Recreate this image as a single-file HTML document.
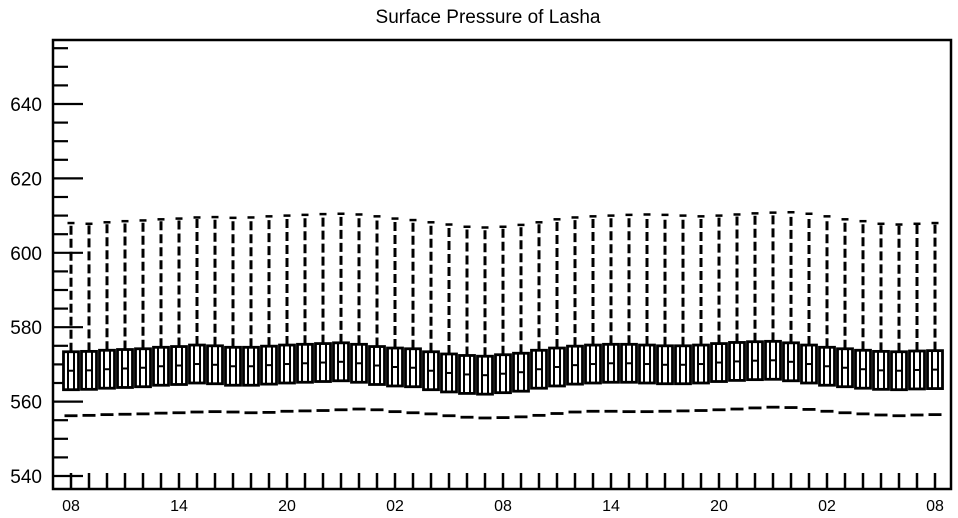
<!DOCTYPE html>
<html><head><meta charset="utf-8"><style>
body{margin:0;background:#fff;}
svg{display:block;font-family:"Liberation Sans",Arial,sans-serif;}
</style></head><body>
<svg id="chart" width="958" height="518" viewBox="0 0 958 518" xmlns="http://www.w3.org/2000/svg">
<text x="488" y="23" font-size="19" text-anchor="middle">Surface Pressure of Lasha</text>
<rect x="53" y="40" width="898" height="449" fill="none" stroke="#000" stroke-width="2.5"/>
<g id="marks"></g>
</svg>
<script>
const xLabels=["08","14","20","02","08","14","20","02","08"];
const yTicks=[540,560,580,600,620,640];
const hi=[608.0,607.8,608.2,608.5,608.7,609.0,609.2,609.5,609.6,609.4,609.5,609.8,610.0,610.2,610.4,610.5,610.3,609.8,609.2,608.8,608.2,607.6,607.0,606.8,607.0,607.5,608.2,609.0,609.5,609.8,610.0,610.2,610.3,610.2,610.0,609.8,610.0,610.3,610.6,610.8,610.9,610.5,609.8,609.0,608.5,607.8,607.6,607.8,608.0];
const q3=[573.4,573.5,573.8,574.0,574.2,574.6,574.8,575.2,575.0,574.6,574.6,574.9,575.2,575.4,575.6,575.8,575.4,574.8,574.4,574.2,573.4,572.8,572.4,572.2,572.6,573.0,573.8,574.4,574.9,575.2,575.4,575.4,575.2,575.0,575.0,575.2,575.6,575.9,576.1,576.2,575.8,575.2,574.6,574.2,573.8,573.5,573.4,573.6,573.7];
const med=[568.3,568.4,568.7,568.9,569.1,569.5,569.7,570.1,569.9,569.5,569.5,569.8,570.1,570.3,570.5,570.7,570.3,569.7,569.3,569.1,568.3,567.7,567.3,567.1,567.5,567.9,568.7,569.3,569.8,570.1,570.3,570.3,570.1,569.9,569.9,570.1,570.5,570.8,571.0,571.1,570.7,570.1,569.5,569.1,568.7,568.4,568.3,568.5,568.6];
const q1=[563.2,563.3,563.6,563.8,564.0,564.4,564.6,565.0,564.8,564.4,564.4,564.7,565.0,565.2,565.4,565.6,565.2,564.6,564.2,564.0,563.2,562.6,562.2,562.0,562.4,562.8,563.6,564.2,564.7,565.0,565.2,565.2,565.0,564.8,564.8,565.0,565.4,565.7,565.9,566.0,565.6,565.0,564.4,564.0,563.6,563.3,563.2,563.4,563.5];
const lo=[556.2,556.3,556.5,556.6,556.7,556.9,557.0,557.2,557.3,557.2,557.0,557.1,557.4,557.5,557.6,557.8,558.0,557.8,557.3,557.0,556.7,556.2,555.8,555.6,555.7,555.9,556.3,556.8,557.2,557.4,557.4,557.3,557.3,557.4,557.5,557.6,557.8,558.0,558.3,558.5,558.4,557.9,557.4,557.0,556.7,556.4,556.2,556.4,556.5];

const NS="http://www.w3.org/2000/svg";
const g=document.getElementById('marks');
const yS=v=>476-(v-540)*3.72;
const xS=i=>71+i*18;
function el(t,a){const e=document.createElementNS(NS,t);for(const k in a)e.setAttribute(k,a[k]);g.appendChild(e);return e;}
for(let v=540;v<=655;v+=5){
  const major=(v%20===0);
  const t=el('line',{x1:53,x2:major?83:68,y1:yS(v),y2:yS(v),stroke:'#000','stroke-width':2.2});
  
  
}
yTicks.forEach(v=>{
  const t=el('text',{x:42,y:yS(v)+7,'font-size':19,'text-anchor':'end'});
  t.textContent=v;
  
  
});
for(let i=0;i<hi.length;i++){
  const t=el('line',{x1:xS(i),x2:xS(i),y1:489,y2:473,stroke:'#000','stroke-width':2.5});
  
  
}
xLabels.forEach((s,j)=>{
  const t=el('text',{x:xS(j*6),y:511,'font-size':16,'text-anchor':'middle'});
  t.textContent=s;
  
  
});
for(let i=0;i<hi.length;i++){
  const x=xS(i);
  const w=el('line',{x1:x,x2:x,y1:yS(q3[i]),y2:yS(hi[i]),stroke:'#000','stroke-width':3,'stroke-dasharray':'9 4'});
  
  
  const c=el('line',{x1:x-3.5,x2:x+3.5,y1:yS(hi[i]),y2:yS(hi[i]),stroke:'#000','stroke-width':2.5});
  
  
  const b=el('rect',{x:x-7.5,y:yS(q3[i]),width:15,height:yS(q1[i])-yS(q3[i]),fill:'#fff',stroke:'#000','stroke-width':2.8});
  
  
  const l1=el('line',{x1:x-3,x2:x-3,y1:yS(q3[i]),y2:yS(q1[i]),stroke:'#000','stroke-width':2});
  
  
  const l2=el('line',{x1:x+3,x2:x+3,y1:yS(q3[i]),y2:yS(q1[i]),stroke:'#000','stroke-width':2});
  
  
  const m=el('line',{x1:x-3,x2:x+3,y1:yS(med[i]),y2:yS(med[i]),stroke:'#000','stroke-width':2});
  
  
  const n=el('line',{x1:x-6.5,x2:x+6.5,y1:yS(lo[i]),y2:yS(lo[i]),stroke:'#000','stroke-width':2.8});
  
  
}
</script>
</body></html>
